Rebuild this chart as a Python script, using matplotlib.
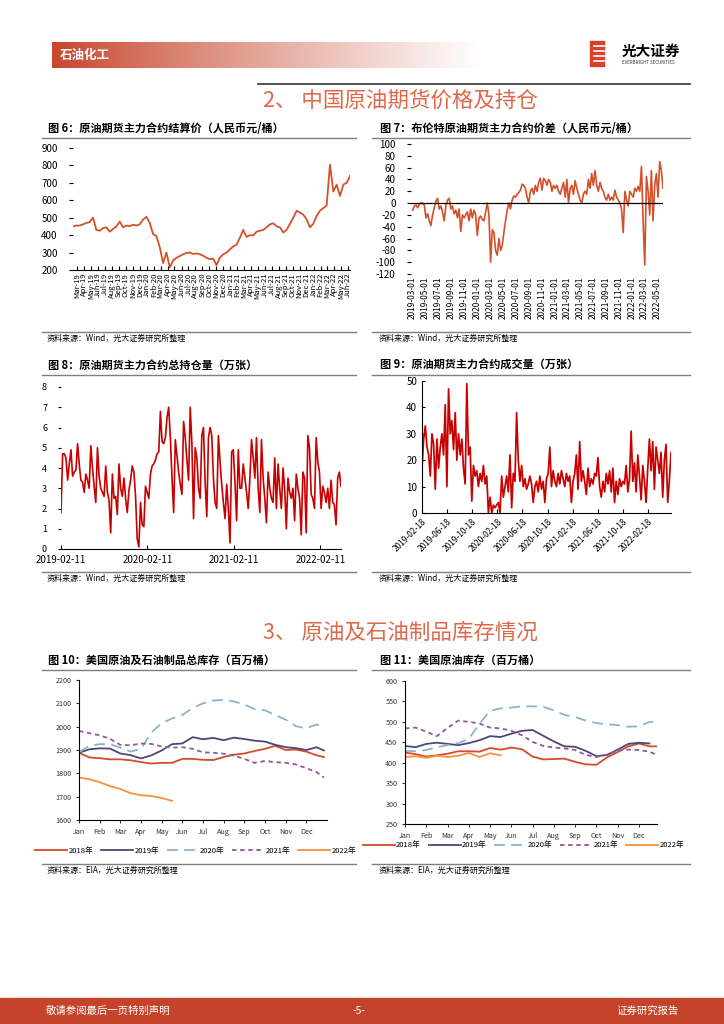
import matplotlib
matplotlib.use('Agg')
import matplotlib.pyplot as plt
import matplotlib.dates as mdates
from matplotlib.patches import Rectangle
import numpy as np
import pandas as pd

plt.rcParams['font.family'] = ['Noto Sans CJK SC', 'DejaVu Sans']
plt.rcParams['axes.unicode_minus'] = False

# ---------------- data ----------------
# fig 6: settlement price of main contract (yuan/bbl), roughly every 2 weeks
settle_start, settle_end = '2019-02-11', '2022-06-10'
settle_price = [450, 455, 455, 462, 470, 475, 500, 430, 425, 440, 445, 420, 435, 450,
                478, 445, 455, 452, 460, 455, 462, 490, 505, 470, 405, 395, 330, 240,
                300, 215, 255, 270, 280, 290, 298, 300, 292, 295, 290, 282, 270, 262,
                265, 228, 270, 290, 300, 318, 335, 345, 385, 430, 390, 400, 398, 420,
                425, 430, 445, 462, 468, 450, 445, 415, 430, 465, 500, 540, 530, 518,
                490, 445, 465, 510, 540, 555, 570, 805, 650, 690, 625, 690, 700, 740]

# fig 7: Brent - SC spread (yuan/bbl)
spread_start, spread_end = '2019-03-01', '2022-05-27'
spread = [-12, -5, -3, -8, -2, 0, 0, -3, -25, -18, -30, -38, -20, -8, 3, 8, -10, -5,
          -15, -30, -5, 5, 8, -10, -5, -18, -12, -25, -10, -48, -20, -25, -20, -15,
          -30, -10, -25, -12, -20, -55, -25, -22, -28, -30, -15, 0, -20, -100, -45,
          -50, -80, -88, -60, -80, -72, -50, -30, -12, 0, -10, 5, 12, 10, 15, 18, 22,
          32, 30, 25, 10, 0, 20, 25, 15, 30, 20, 35, 42, 22, 42, 38, 30, 40, 35, 20,
          30, 25, 30, 20, 15, 25, 35, 10, 40, 0, 25, 30, 15, 38, 25, 15, 5, 0, 15, 20,
          15, 40, 25, 50, 30, 55, 30, 20, 35, 25, 20, 10, 5, 15, 5, 10, 5, 22, 10, 5,
          0, -10, -50, 20, 5, -5, 20, 15, 10, 25, 20, 28, 20, 62, -30, -105, 45, 20,
          -20, 55, -30, 30, 50, 10, 70, 55, 25]
spread_ticks = pd.date_range('2019-03-01', '2022-05-01', freq='2MS')

# fig 8: open interest (10k lots), weekly
oi_start = '2019-02-11'
open_interest = [1.8, 4.7, 4.7, 4.5, 3.4, 4.2, 4.9, 3.6, 3.8, 3.9, 5.2, 4.2, 3.4, 3.3,
                 2.8, 3.7, 3.4, 3.0, 5.1, 4.0, 3.1, 2.3, 5.0, 3.6, 3.0, 2.8, 2.6, 4.1,
                 2.8, 2.4, 0.8, 3.7, 2.5, 2.6, 1.7, 4.2, 3.0, 2.6, 3.5, 2.5, 1.8, 2.9,
                 3.4, 4.1, 3.8, 2.6, 0.5, 0.1, 2.3, 1.2, 1.1, 3.1, 2.8, 2.5, 3.7, 4.1,
                 4.2, 4.4, 4.7, 4.8, 6.8, 5.3, 5.2, 5.5, 6.5, 7.0, 5.5, 3.5, 1.8, 5.4,
                 4.6, 3.8, 3.2, 2.7, 6.3, 5.5, 4.4, 3.4, 7.0, 5.2, 1.5, 5.0, 4.5, 3.0,
                 2.5, 5.6, 6.0, 3.3, 1.6, 5.5, 6.0, 5.6, 3.5, 2.3, 2.0, 5.6, 4.3, 3.2,
                 2.3, 1.5, 3.2, 2.0, 0.3, 4.8, 4.9, 3.3, 1.4, 4.9, 3.0, 3.0, 4.2, 3.5,
                 2.8, 2.0, 3.5, 5.4, 4.5, 3.5, 5.5, 3.0, 1.8, 5.4, 3.5, 2.5, 1.3, 3.8,
                 3.0, 2.5, 2.3, 4.5, 2.0, 4.2, 3.0, 2.0, 4.0, 3.0, 1.0, 3.5, 2.8, 2.5,
                 3.0, 1.4, 3.7, 3.0, 2.5, 0.7, 3.8, 3.5, 0.8, 5.6, 5.0, 2.7, 2.5, 2.0,
                 5.5, 4.3, 3.8, 2.0, 3.1, 2.8, 2.3, 3.0, 2.0, 3.4, 2.3, 2.2, 1.2, 3.5,
                 3.8, 3.1]
oi_ticks = ['2019-02-11', '2020-02-11', '2021-02-11', '2022-02-11']

# fig 9: trading volume (10k lots)
vol_start, vol_end = '2019-02-18', '2022-06-08'
volume = [17, 28, 33, 25, 22, 14, 30, 26, 9, 28, 17, 25, 30, 22, 41, 10, 47, 30, 35,
          24, 38, 20, 30, 22, 28, 17, 11, 49, 22, 25, 4.5, 18, 14, 16, 10, 15, 12, 18,
          11, 14, 0, 6, 0, 3, 2, 3, 4, 0, 14, 6, 10, 14, 8, 22, 2, 15, 12, 38, 20, 12,
          18, 10, 13, 9, 11, 14, 11, 4, 10, 12, 8, 14, 9, 12, 4, 13, 15, 25, 10, 16,
          12, 10, 15, 11, 16, 13, 10, 15, 12, 14, 4, 12, 15, 22, 9, 27, 12, 16, 12, 7,
          17, 10, 13, 11, 15, 14, 21, 10, 6, 12, 8, 15, 11, 16, 8, 17, 4, 12, 7, 13,
          10, 12, 11, 18, 8, 13, 31, 12, 19, 8, 22, 14, 5, 18, 12, 4, 17, 28, 16, 27,
          9, 25, 20, 15, 23, 6, 20, 26, 4, 12, 23]
vol_ticks = ['2019-02-18', '2019-06-18', '2019-10-18', '2020-02-18', '2020-06-18',
             '2020-10-18', '2021-02-18', '2021-06-18', '2021-10-18', '2022-02-18']

# fig 10 / 11: EIA stocks (million bbl), half-month readings
months = ['Jan', 'Feb', 'Mar', 'Apr', 'May', 'Jun', 'Jul', 'Aug', 'Sep', 'Oct', 'Nov', 'Dec']
years = ['2018年', '2019年', '2020年', '2021年', '2022年']
total_2018 = [1888, 1868, 1865, 1860, 1860, 1856, 1848, 1842, 1845, 1845, 1862, 1862, 1858,
              1857, 1870, 1880, 1885, 1896, 1905, 1918, 1900, 1902, 1893, 1877, 1870]
total_2019 = [1888, 1903, 1907, 1906, 1885, 1878, 1864, 1877, 1898, 1925, 1928, 1955, 1946,
              1952, 1942, 1953, 1947, 1940, 1936, 1922, 1912, 1908, 1900, 1912, 1898]
total_2020 = [1890, 1918, 1925, 1925, 1910, 1893, 1905, 1975, 2015, 2035, 2050, 2080, 2100,
              2112, 2115, 2108, 2095, 2075, 2070, 2050, 2030, 2002, 1993, 2010, 1993]
total_2021 = [1982, 1972, 1963, 1948, 1922, 1920, 1928, 1926, 1915, 1910, 1912, 1905, 1890,
              1888, 1884, 1876, 1862, 1845, 1853, 1848, 1845, 1838, 1822, 1805, 1782]
total_2022 = [1782, 1775, 1762, 1745, 1733, 1715, 1706, 1703, 1694, 1682]

crude_2018 = [425, 421, 415, 418, 422, 428, 428, 427, 436, 432, 437, 433, 415, 408, 409,
              410, 402, 396, 395, 413, 426, 440, 447, 440, 440]
crude_2019 = [441, 438, 446, 449, 446, 443, 448, 455, 465, 463, 471, 478, 480, 466, 452,
              440, 439, 429, 416, 419, 432, 446, 449, 447, np.nan]
crude_2020 = [429, 428, 431, 438, 443, 448, 458, 495, 527, 533, 535, 538, 538, 537, 528,
              517, 512, 503, 497, 494, 492, 488, 489, 500, 499]
crude_2021 = [484, 486, 476, 465, 485, 503, 500, 496, 486, 484, 478, 467, 451, 441, 437,
              435, 431, 419, 414, 420, 430, 432, 431, 427, 419]
crude_2022 = [414, 416, 412, 417, 414, 417, 424, 414, 423, 418]

# ---------------- page ----------------
W, H = 724, 1024
fig = plt.figure(figsize=(W / 100, H / 100), dpi=100)
bg = fig.add_axes([0, 0, 1, 1])
bg.set_xlim(0, W)
bg.set_ylim(H, 0)
bg.axis('off')


def rect(x0, y0, x1, y1):
    return [x0 / W, 1 - y1 / H, (x1 - x0) / W, (y1 - y0) / H]


# header bar with fading red
t = np.linspace(0, 1, 300) ** 0.9
red = np.array([0.78, 0.27, 0.17])
grad = red[None, :] * (1 - t[:, None]) + t[:, None]
bg.imshow(grad[None, :, :], extent=[52, 480, 68, 42], aspect='auto', zorder=1)
bg.text(60, 55, '石油化工', color='white', fontsize=9, weight='bold', va='center')
bg.plot([258, 690], [84, 84], color='#333333', lw=1.2)
bg.add_patch(Rectangle((590, 41), 14, 25, color='#D9402B'))
for yy in (46, 51, 56, 61):
    bg.plot([594, 604], [yy, yy], color='white', lw=1.2)
bg.text(622, 51, '光大证券', fontsize=10.5, weight='bold', va='center')
bg.text(622, 63, 'EVERBRIGHT SECURITIES', fontsize=3.2, va='center', color='#333333')

sec_color = '#E0684A'
bg.text(400, 101, '2、 中国原油期货价格及持仓', fontsize=15.5, color=sec_color,
        ha='center', va='center')
bg.text(400, 633, '3、 原油及石油制品库存情况', fontsize=15.5, color=sec_color,
        ha='center', va='center')

# footer
bg.add_patch(Rectangle((0, 998), W, 26, color='#C4432A'))
bg.text(46, 1011, '敬请参阅最后一页特别声明', color='white', fontsize=7.5, va='center')
bg.text(359, 1011, '-5-', color='white', fontsize=7.5, va='center', ha='center')
bg.text(679, 1011, '证券研究报告', color='white', fontsize=7.5, va='center', ha='right')


def frame(x_left, title, ty, source, sy):
    lx0, lx1 = (42, 356) if x_left < 200 else (372, 690)
    bg.text(x_left, ty, title, fontsize=8, weight='bold', va='center')
    bg.plot([lx0, lx1], [ty + 10, ty + 10], color='#7F7F7F', lw=1)
    bg.plot([lx0, lx1], [sy - 5, sy - 5], color='#7F7F7F', lw=1)
    bg.text(x_left - 1, sy + 1, source, fontsize=5.8, va='center')


frame(48, '图 6：原油期货主力合约结算价（人民币元/桶）', 128, '资料来源：Wind，光大证券研究所整理', 337)
frame(380, '图 7：布伦特原油期货主力合约价差（人民币元/桶）', 128, '资料来源：Wind，光大证券研究所整理', 337)
frame(48, '图 8：原油期货主力合约总持仓量（万张）', 365, '资料来源：Wind，光大证券研究所整理', 577)
frame(380, '图 9：原油期货主力合约成交量（万张）', 365, '资料来源：Wind，光大证券研究所整理', 577)
frame(48, '图 10：美国原油及石油制品总库存（百万桶）', 660, '资料来源：EIA，光大证券研究所整理', 869)
frame(380, '图 11：美国原油库存（百万桶）', 660, '资料来源：EIA，光大证券研究所整理', 869)

orange_red = '#D4502A'
deep_red = '#C80000'

# ---------------- fig 6 ----------------
ax6 = fig.add_axes(rect(73, 148, 350, 270))
d6 = pd.date_range(settle_start, settle_end, periods=len(settle_price))
ax6.plot(d6, settle_price, color=orange_red, lw=1.3)
ax6.set_ylim(200, 900)
ax6.set_yticks(range(200, 901, 100))
ax6.set_xlim(d6[0], d6[-1])
ax6.xaxis.set_major_locator(mdates.MonthLocator())
ax6.xaxis.set_major_formatter(mdates.DateFormatter('%b-%y'))
ax6.tick_params(axis='x', labelsize=5.5, rotation=90, direction='in', length=3, pad=2)
ax6.tick_params(axis='y', labelsize=7, length=3, pad=8)
for s in ('top', 'right', 'left'):
    ax6.spines[s].set_visible(False)

# ---------------- fig 7 ----------------
ax7 = fig.add_axes(rect(411, 144, 663, 274))
d7 = pd.date_range(spread_start, spread_end, periods=len(spread))
ax7.plot(d7, spread, color=orange_red, lw=1.2)
ax7.axhline(0, color='black', lw=0.9, zorder=3)
ax7.set_ylim(-120, 100)
ax7.set_yticks(range(-120, 101, 20))
ax7.set_xlim(d7[0] - pd.Timedelta(days=8), d7[-1])
ax7.set_xticks(spread_ticks)
ax7.set_xticklabels([d.strftime('%Y-%m-%d') for d in spread_ticks])
ax7.tick_params(axis='x', labelsize=6, rotation=90, length=0, pad=2)
ax7.tick_params(axis='y', labelsize=7, length=3, pad=8)
for s in ('top', 'right', 'left', 'bottom'):
    ax7.spines[s].set_visible(False)

# ---------------- fig 8 ----------------
ax8 = fig.add_axes(rect(61, 387, 341, 549))
d8 = pd.date_range(oi_start, periods=len(open_interest), freq='7D')
ax8.plot(d8, open_interest, color=deep_red, lw=1.2)
ax8.set_ylim(0, 8)
ax8.set_yticks(range(0, 9))
ax8.set_xlim(d8[0], d8[-1])
ax8.set_xticks(pd.to_datetime(oi_ticks))
ax8.set_xticklabels(oi_ticks)
ax8.tick_params(axis='x', labelsize=7, direction='in', length=3, pad=4)
ax8.tick_params(axis='y', labelsize=6.5, length=2, pad=8)
for s in ('top', 'right', 'left'):
    ax8.spines[s].set_visible(False)

# ---------------- fig 9 ----------------
ax9 = fig.add_axes(rect(422, 381, 671, 513))
d9 = pd.date_range(vol_start, vol_end, periods=len(volume))
ax9.plot(d9, volume, color=deep_red, lw=1.25)
ax9.set_ylim(0, 50)
ax9.set_yticks(range(0, 51, 10))
ax9.set_xlim(d9[0], d9[-1])
ax9.set_xticks(pd.to_datetime(vol_ticks))
ax9.set_xticklabels(vol_ticks, rotation=45, ha='right', rotation_mode='anchor')
ax9.tick_params(axis='x', labelsize=6, direction='in', length=3, pad=3)
ax9.tick_params(axis='y', labelsize=7, direction='in', length=2)
for s in ('top', 'right'):
    ax9.spines[s].set_visible(False)

# ---------------- fig 10 / 11 ----------------
half_month = np.append(np.arange(24) * 0.5, 11.85)
year_colors = ['#D64A2A', '#4E4677', '#8DB4CC', '#8E5A9B', '#F7913D']
year_dashes = [None, None, (6, 3.5), (2.5, 2), None]


def stock_chart(ax, series, ylim, step, legend_y):
    for lab, vals, col, dsh in zip(years, series, year_colors, year_dashes):
        line, = ax.plot(half_month[:len(vals)], vals, color=col, lw=1.3, label=lab)
        if dsh:
            line.set_dashes(dsh)
    ax.set_ylim(*ylim)
    ax.set_yticks(range(ylim[0], ylim[1] + 1, step))
    ax.set_xticks(range(12))
    ax.set_xticklabels(months)
    ax.tick_params(axis='both', labelsize=5.2, length=2, colors='#333333')
    for s in ('top', 'right'):
        ax.spines[s].set_visible(False)
    ax.legend(loc='center', bbox_to_anchor=(0.47, legend_y), ncol=5, frameon=False,
              fontsize=5.5, handlelength=4.2, columnspacing=1.0, handletextpad=0.2)


ax10 = fig.add_axes(rect(79, 680, 327, 820))
stock_chart(ax10, [total_2018, total_2019, total_2020, total_2021, total_2022],
            (1600, 2200), 100, -0.22)
ax10.set_xlim(0, 12)

ax11 = fig.add_axes(rect(405, 681, 657, 824))
stock_chart(ax11, [crude_2018, crude_2019, crude_2020, crude_2021, crude_2022],
            (250, 600), 50, -0.15)
ax11.set_xlim(0, 11.85)

fig.savefig('out.png', dpi=100)
